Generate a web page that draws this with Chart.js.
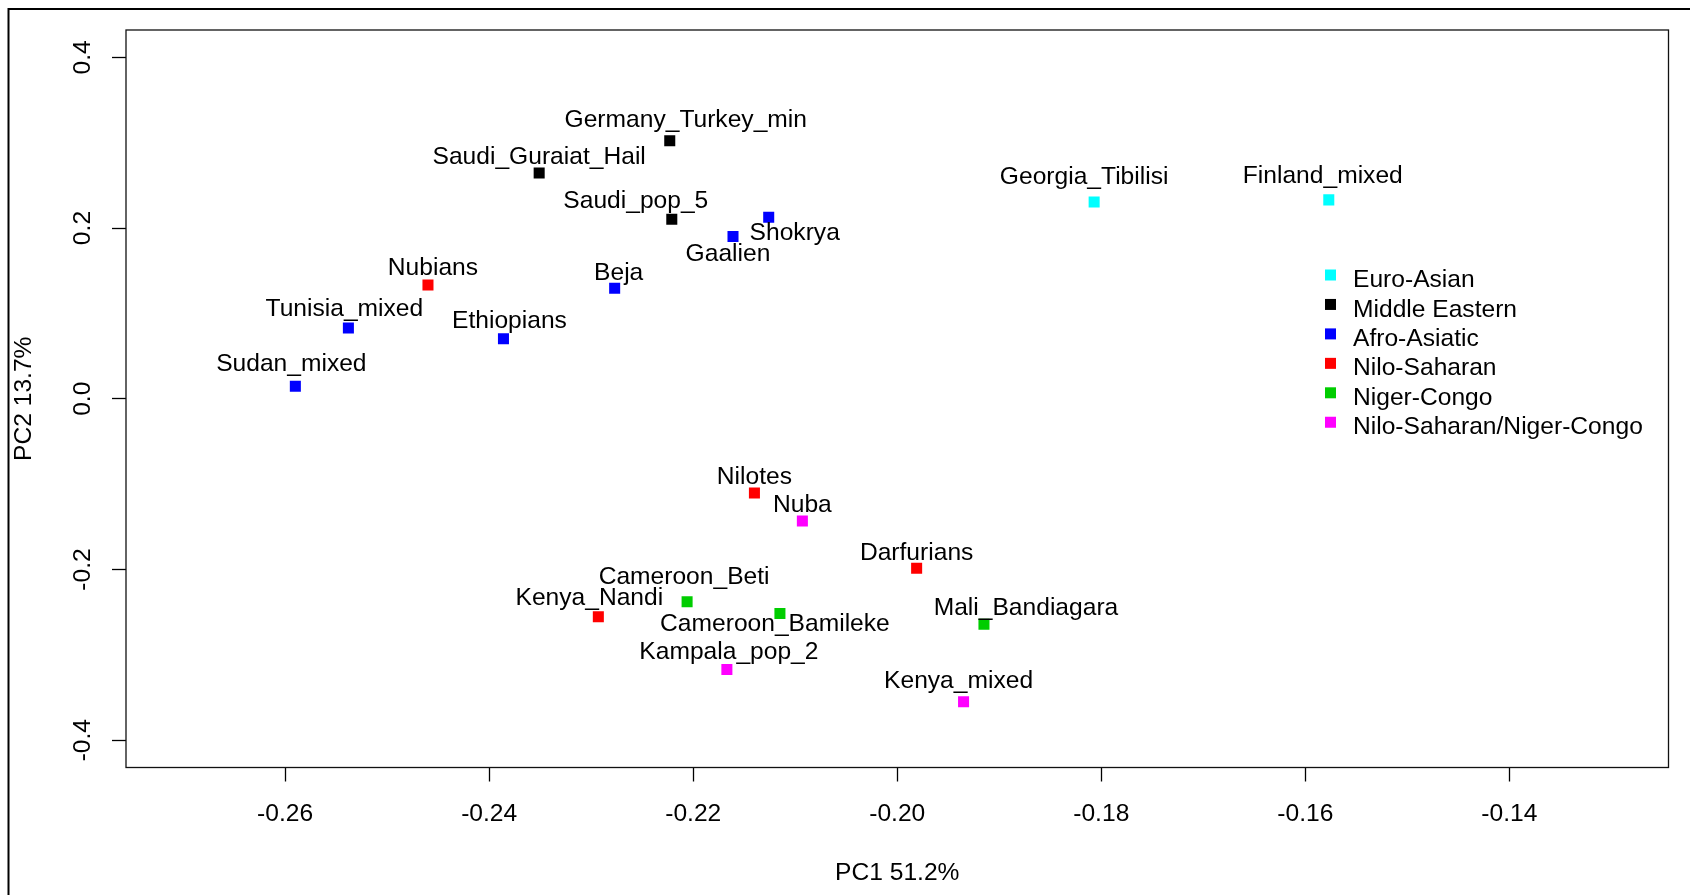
<!DOCTYPE html>
<html>
<head>
<meta charset="utf-8">
<script src="https://cdn.jsdelivr.net/npm/chart.js@4"></script>
<style>
  html, body { margin: 0; padding: 0; background: #fff; }
  #wrap { width: 1690px; height: 895px; }
</style>
</head>
<body>
<div id="wrap"><canvas id="pcaChart" width="1690" height="895"></canvas></div>
<script>
'use strict';

// population groups, in legend order
var groupNames = ['Euro-Asian', 'Middle Eastern', 'Afro-Asiatic', 'Nilo-Saharan', 'Niger-Congo', 'Nilo-Saharan/Niger-Congo'];
var groupColors = ['#00FFFF', '#000000', '#0000FF', '#FF0000', '#00CD00', '#FF00FF'];

// populations with their PC1 / PC2 scores and group index
var populations = [
    'Georgia_Tibilisi', 'Finland_mixed',
    'Germany_Turkey_min', 'Saudi_Guraiat_Hail', 'Saudi_pop_5',
    'Shokrya', 'Gaalien', 'Beja', 'Tunisia_mixed', 'Ethiopians', 'Sudan_mixed',
    'Nubians', 'Nilotes', 'Darfurians', 'Kenya_Nandi',
    'Cameroon_Beti', 'Cameroon_Bamileke', 'Mali_Bandiagara',
    'Nuba', 'Kampala_pop_2', 'Kenya_mixed'
];
var pc1 = [
    -0.1807, -0.1577,
    -0.2223, -0.2351, -0.2221,
    -0.2126, -0.2161, -0.2277, -0.2538, -0.2386, -0.2590,
    -0.2460, -0.2140, -0.1981, -0.2293,
    -0.2206, -0.2115, -0.1915,
    -0.2093, -0.2167, -0.1935
];
var pc2 = [
    0.2304, 0.2330,
    0.3023, 0.2645, 0.2102,
    0.2127, 0.1900, 0.1295, 0.0828, 0.0702, 0.0146,
    0.1333, -0.1103, -0.1986, -0.2554,
    -0.2377, -0.2516, -0.2642,
    -0.1431, -0.3172, -0.3551
];
var groupOf = [
    0, 0,
    1, 1, 1,
    2, 2, 2, 2, 2, 2,
    3, 3, 3, 3,
    4, 4, 4,
    5, 5, 5
];

// axis ticks
var xTicks = [-0.26, -0.24, -0.22, -0.20, -0.18, -0.16, -0.14];
var yTicks = [-0.4, -0.2, 0.0, 0.2, 0.4];

// label placement next to each point, in pixels (dx, dy to text centre)
var labelShift = [
    [-10, -27], [-6, -26],
    [16, -23], [0, -18], [-36, -20],
    [26, 14], [-5, 16], [4, -17], [-4, -21], [6, -20], [-4, -24],
    [5, -19], [0, -18], [0, -17], [-9, -21],
    [-3, -26], [-5, 9], [42, -18],
    [0, -18], [2, -19], [-5, -23]
];

var FONT = "'Liberation Sans', Arial, Helvetica, sans-serif";
var FSIZE = 24.6;

function buildDatasets() {
    return groupNames.map(function (name, g) {
        var pts = [];
        for (var i = 0; i < populations.length; i++) {
            if (groupOf[i] === g) {
                pts.push({ x: pc1[i], y: pc2[i], name: populations[i], shift: labelShift[i] });
            }
        }
        return {
            label: name,
            data: pts,
            backgroundColor: groupColors[g],
            pointStyle: 'rect',
            pointRadius: 7.8,
            pointHoverRadius: 7.8,
            borderWidth: 0
        };
    });
}

// white page, outer frame and plot box
var framePlugin = {
    id: 'frame',
    beforeDraw: function (chart) {
        var ctx = chart.ctx;
        ctx.save();
        ctx.fillStyle = '#fff';
        ctx.fillRect(0, 0, chart.width, chart.height);
        ctx.strokeStyle = '#000';
        ctx.lineWidth = 2;
        ctx.strokeRect(8.5, 9, chart.width + 20, chart.height + 20);
        ctx.restore();
    },
    afterDraw: function (chart) {
        var a = chart.chartArea, ctx = chart.ctx;
        ctx.save();
        ctx.strokeStyle = '#111';
        ctx.lineWidth = 1.3;
        ctx.strokeRect(a.left, a.top, a.right - a.left, a.bottom - a.top);
        ctx.restore();
    }
};

// population names beside the points
var nameLabels = {
    id: 'nameLabels',
    afterDatasetsDraw: function (chart) {
        var ctx = chart.ctx;
        ctx.save();
        ctx.font = FSIZE + 'px ' + FONT;
        ctx.fillStyle = '#000';
        ctx.textAlign = 'center';
        ctx.textBaseline = 'alphabetic';
        chart.data.datasets.forEach(function (ds, di) {
            var meta = chart.getDatasetMeta(di);
            meta.data.forEach(function (el, j) {
                var p = ds.data[j];
                ctx.fillText(p.name, el.x + p.shift[0], el.y + p.shift[1] + 8.8);
            });
        });
        ctx.restore();
    }
};

// group key in the right part of the plot
var groupKey = {
    id: 'groupKey',
    afterDraw: function (chart) {
        var a = chart.chartArea, ctx = chart.ctx;
        var sx = a.right - 338, top = a.top + 245, step = 29.45, half = 5.5;
        ctx.save();
        ctx.font = FSIZE + 'px ' + FONT;
        ctx.textAlign = 'left';
        ctx.textBaseline = 'alphabetic';
        chart.data.datasets.forEach(function (ds, i) {
            var cy = top + i * step;
            ctx.fillStyle = ds.backgroundColor;
            ctx.fillRect(sx - half, cy - half, half * 2, half * 2);
            ctx.fillStyle = '#000';
            ctx.fillText(ds.label, sx + 22.5, cy + 3.3 + 8.8);
        });
        ctx.restore();
    }
};

var PCACHART = document.getElementById('pcaChart');

var pcaChart = new Chart(PCACHART, {
    type: 'scatter',
    data: { datasets: buildDatasets() },
    options: {
        responsive: false,
        animation: false,
        events: [],
        layout: { padding: { left: 0, top: 30, right: 21.5, bottom: 0 } },
        plugins: {
            legend: { display: false },
            tooltip: { enabled: false }
        },
        scales: {
            x: {
                type: 'linear',
                min: -0.2756,
                max: -0.1244,
                afterBuildTicks: function (scale) {
                    scale.ticks = xTicks.map(function (v) { return { value: v }; });
                },
                afterFit: function (scale) { scale.height = 127.5; },
                border: { display: false },
                grid: { drawOnChartArea: false, drawTicks: true, tickLength: 14, tickColor: '#000', tickWidth: 1.3 },
                ticks: {
                    autoSkip: false,
                    maxRotation: 0,
                    padding: 20.5,
                    color: '#000',
                    font: { family: FONT, size: FSIZE, lineHeight: 1 },
                    callback: function (v) { return v.toFixed(2); }
                },
                title: {
                    display: true,
                    text: 'PC1 51.2%',
                    color: '#000',
                    font: { family: FONT, size: FSIZE, lineHeight: 1 },
                    padding: { top: 0, bottom: 9 }
                }
            },
            y: {
                type: 'linear',
                min: -0.432,
                max: 0.432,
                afterBuildTicks: function (scale) {
                    scale.ticks = yTicks.map(function (v) { return { value: v }; });
                },
                afterFit: function (scale) { scale.width = 126; },
                border: { display: false },
                grid: { drawOnChartArea: false, drawTicks: true, tickLength: 14, tickColor: '#000', tickWidth: 1.3 },
                ticks: {
                    autoSkip: false,
                    minRotation: 90,
                    maxRotation: 90,
                    crossAlign: 'center',
                    padding: 8,
                    color: '#000',
                    font: { family: FONT, size: FSIZE, lineHeight: 1 },
                    callback: function (v) { return v.toFixed(1); }
                },
                title: {
                    display: true,
                    text: 'PC2 13.7%',
                    color: '#000',
                    font: { family: FONT, size: FSIZE, lineHeight: 1 },
                    padding: { top: 12, bottom: 0 }
                }
            }
        }
    },
    plugins: [framePlugin, nameLabels, groupKey]
});
</script>
</body>
</html>
